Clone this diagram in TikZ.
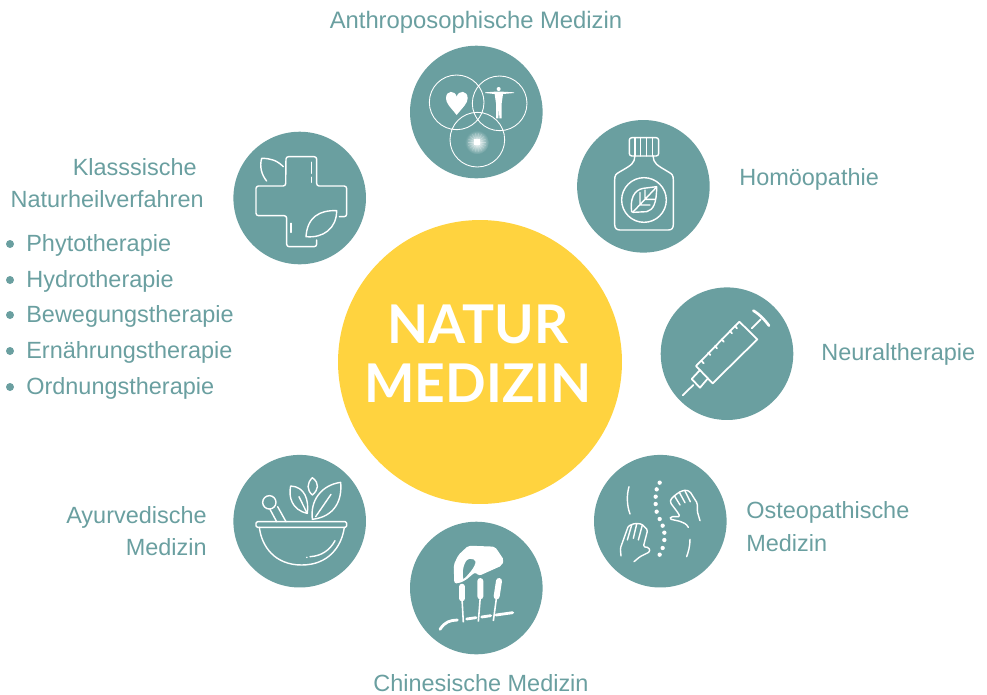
\documentclass[tikz,border=0pt]{standalone}
\usepackage{fontspec}
\setmainfont{Liberation Sans}
\newfontfamily\latofont{Lato}
\usepackage{xcolor}
\usepackage{tikz}
\definecolor{tealgrey}{HTML}{6A9FA0}
\definecolor{sunyellow}{HTML}{FFD33F}

\begin{document}
\begin{tikzpicture}[x=0.02cm,y=-0.02cm,
   disc/.style={circle,fill=tealgrey,minimum size=2.652cm,inner sep=0pt},
   lab/.style={font=\fontsize{13.35}{16}\selectfont,text=tealgrey,inner sep=0pt},
   title/.style={font=\latofont\bfseries\fontsize{30.4}{36}\selectfont,text=white,inner sep=0pt,anchor=base},
   icon/.style={draw=white,line width=0.8pt,line cap=round,line join=round},
   zm/.style args={#1/#2}{shift={(#1,#2)},x=0.02cm/3,y=-0.02cm/3}]
  \useasboundingbox (0,0) rectangle (987,694);
  % centre
  \node[circle,fill=sunyellow,minimum size=5.68cm,inner sep=0pt] (natur) at (480,362) {};
  \node[title] (natur1) at (478,343) {NATUR};
  \node[title] (natur2) at (478,402) {MEDIZIN};
  % discs
  \node[disc] (anthro) at (476.3,112) {};
  \node[disc] (homoeo) at (643.4,186.3) {};
  \node[disc] (klass) at (299.7,198) {};
  \node[disc] (neural) at (727,353.7) {};
  \node[disc] (osteo) at (660.3,521.2) {};
  \node[disc] (chin) at (476.3,588) {};
  \node[disc] (ayur) at (299.7,521.2) {};
  % labels
  \node[lab,font=\fontsize{13.55}{16}\selectfont,anchor=base] (anthrolab) at (476,28) {Anthroposophische Medizin};
  \node[lab,anchor=base west] (homoeolab) at (739,185) {Homöopathie};
  \node[lab,anchor=base west] (neurallab) at (821,360) {Neuraltherapie};
  \node[lab,anchor=base west] (osteolab1) at (746,518) {Osteopathische};
  \node[lab,anchor=base west] (osteolab2) at (746,551) {Medizin};
  \node[lab,anchor=base] (chinlab) at (481,691) {Chinesische Medizin};
  \node[lab,anchor=base east] (ayurlab1) at (207,523) {Ayurvedische};
  \node[lab,anchor=base east] (ayurlab2) at (207,555) {Medizin};
  \node[lab,anchor=base east] (klasslab1) at (197,175) {Klasssische};
  \node[lab,anchor=base east] (klasslab2) at (204,207) {Naturheilverfahren};
  \foreach \name/\yy/\txt in {phyto/251/Phytotherapie,hydro/287/Hydrotherapie,
      beweg/322/Bewegungstherapie,ernaehr/358/Ernährungstherapie,ordn/394/Ordnungstherapie}{
    \node[lab,anchor=base west] (\name) at (26,\yy) {\txt};
    \fill[tealgrey] (10,\yy-7) circle (4);
  }
  % three circles
  \begin{scope}[zm=400/40]
    \draw[icon,line width=0.5pt] (170,187) circle (82) (299,190) circle (82) (232,299) circle (82);
    \fill[white] (170,225) .. controls (150,200) and (138,190) .. (138,175)
       .. controls (138,150) and (165,150) .. (170,170)
       .. controls (175,150) and (203,150) .. (203,175)
       .. controls (203,190) and (190,200) .. (170,225);
    \fill[white] (296,147) circle (6);
    \fill[white] (255,157) -- (285,155) -- (307,155) -- (342,157) -- (342,159) -- (309,162) -- (305,190)
       -- (305,235) -- (298,235) -- (297,200) -- (295,235) -- (288,235) -- (288,190) -- (284,162) -- (255,159) -- cycle;
    \shade[inner color=white,outer color=tealgrey] (231,307) circle (36);
    \foreach \ang in {0,20,...,340}{
      \draw[white,line width=0.2pt,opacity=.3] (231,307) -- ++(\ang:28);
    }
    \fill[white] (222,298) rectangle (240,316);
  \end{scope}
  % bottle
  \begin{scope}[zm=400/40]
    \draw[icon,rounded corners=1.4pt] (688,293) rectangle (776,348);
    \draw[icon] (705,293) -- (705,348) (722,293) -- (722,348) (740,293) -- (740,348) (758,293) -- (758,348);
    \draw[icon] (704,348) .. controls (704,370) and (695,375) .. (660,395) .. controls (648,402) and (644,405) .. (644,420)
       -- (644,553) .. controls (644,565) and (650,570) .. (660,570) -- (805,570)
       .. controls (815,570) and (820,565) .. (820,553) -- (820,420)
       .. controls (820,405) and (816,402) .. (804,395) .. controls (770,375) and (760,370) .. (760,348);
    \draw[icon] (732,480) circle (67);
    \draw[icon] (770,440) -- (730,445) .. controls (700,450) and (690,480) .. (695,515) -- (700,517) -- (740,515)
       .. controls (760,510) and (770,490) .. (770,440);
    \draw[icon] (700,515) -- (768,443) (720,492) -- (720,458) (735,477) -- (735,450) (720,495) -- (750,495) (738,478) -- (765,478);
  \end{scope}
  % cross
  \begin{scope}[zm=220/125]
    \draw[icon,rounded corners=1.4pt] (358,275) -- (380,275) -- (380,183) -- (290,183) -- (290,95) -- (198,95) -- (197,183)
       -- (108,183) -- (108,272) -- (200,272) -- (200,365) -- (290,365) -- (290,345);
    \draw[icon] (275,112) -- (275,145) (275,157) -- (275,172) (213,295) -- (213,322);
    \draw[icon] (190,125) .. controls (170,105) and (150,100) .. (125,100) .. controls (118,125) and (125,150) .. (140,168);
    \draw[icon] (350,257) .. controls (300,255) and (262,275) .. (258,335) .. controls (310,340) and (350,310) .. (350,257) -- cycle;
  \end{scope}
  % syringe
  \begin{scope}[zm=650/280]
    \draw[icon,line width=1pt] (268,125) -- (322,178) -- (188,310) -- (138,258) -- cycle;
    \draw[icon,line width=1pt] (150,270) -- (125,297) -- (150,323) -- (172,297);
    \draw[icon,line width=1pt] (130,315) -- (98,346) (305,145) -- (332,118);
    \draw[icon,line width=1.5pt] (310,92) .. controls (325,100) and (345,120) .. (357,137);
    \foreach \tx/\ty in {255/138,240/153,215/178,195/198,175/218,155/243}{
      \draw[icon,line width=1pt] (\tx,\ty) -- ++(6,7);
    }
  \end{scope}
  % spine and hands
  \begin{scope}[zm=585/450]
    \foreach \dx/\dy in {224/98,215/118,212/140,212/162,215/185,224/207,233/227,238/248,238/270,233/294,224/314}{
      \fill[white] (\dx,\dy) circle (6.5);
    }
    \draw[icon] (132,110) .. controls (125,135) and (125,165) .. (135,192);
    \draw[icon] (315,268) .. controls (315,290) and (310,305) .. (305,320);
    \draw[icon,rounded corners=0.8pt] (345,212) -- (337,185) -- (337,160) -- (315,125) -- (303,120) -- (287,124) -- (272,134)
       -- (257,148) -- (256,158) -- (280,190) -- (285,200) -- (258,200) -- (254,207) -- (285,214) -- (303,222) -- (310,232);
    \draw[icon] (316,155) -- (300,123) (300,158) -- (283,127) (285,165) -- (268,137);
    \draw[icon,rounded corners=0.8pt] (108,318) -- (106,295) -- (130,228) -- (150,220) -- (170,222) -- (188,240) -- (175,290)
       -- (192,293) -- (195,305) -- (165,320) -- (147,335);
    \draw[icon] (127,270) -- (140,225) (145,265) -- (155,222) (160,270) -- (172,225);
  \end{scope}
  % needles
  \begin{scope}[zm=400/515]
    \fill[white,even odd rule,rounded corners=1.2pt] (163,205) -- (161,150) -- (175,120) -- (205,92) -- (285,95) -- (312,135)
       -- (305,152) -- (238,182) -- (225,172) -- (196,196) -- (176,205) -- cycle
       (190,193) .. controls (183,160) and (198,130) .. (215,132) .. controls (234,136) and (224,162) .. (190,193);
    \draw[white,line width=3.4pt,line cap=round] (186,215) -- (186,250) (241,198) -- (241,244) (297,198) -- (290,244);
    \draw[white,line width=0.9pt] (186,250) -- (190,322) (241,244) -- (235,320) (290,244) -- (280,318);
    \draw[white,line width=1.6pt,line cap=round] (120,343) .. controls (135,320) and (150,316) .. (172,315)
       (200,312) -- (228,308) (245,306) -- (272,302) (288,300) -- (338,293);
  \end{scope}
  % mortar
  \begin{scope}[zm=225/450]
    \draw[icon] (133,157) circle (20);
    \draw[icon] (135,178) -- (155,215) (158,170) -- (183,215);
    \draw[icon,rounded corners=0.8pt] (93,215) rectangle (365,232);
    \draw[icon] (103,232) .. controls (110,290) and (150,345) .. (230,345) .. controls (310,345) and (350,290) .. (358,232);
    \draw[icon] (330,272) .. controls (315,300) and (290,318) .. (255,320) (245,322) -- (246,322);
    \draw[icon] (197,108) .. controls (240,110) and (252,150) .. (247,190) .. controls (200,180) and (190,140) .. (197,108);
    \draw[icon] (222,140) -- (245,187);
    \draw[icon] (262,83) .. controls (285,100) and (280,120) .. (262,135) .. controls (245,120) and (245,100) .. (262,83);
    \draw[icon] (347,97) .. controls (290,105) and (255,150) .. (262,208) .. controls (330,200) and (352,150) .. (347,97);
    \draw[icon] (272,200) -- (318,133);
  \end{scope}
\end{tikzpicture}
\end{document}
